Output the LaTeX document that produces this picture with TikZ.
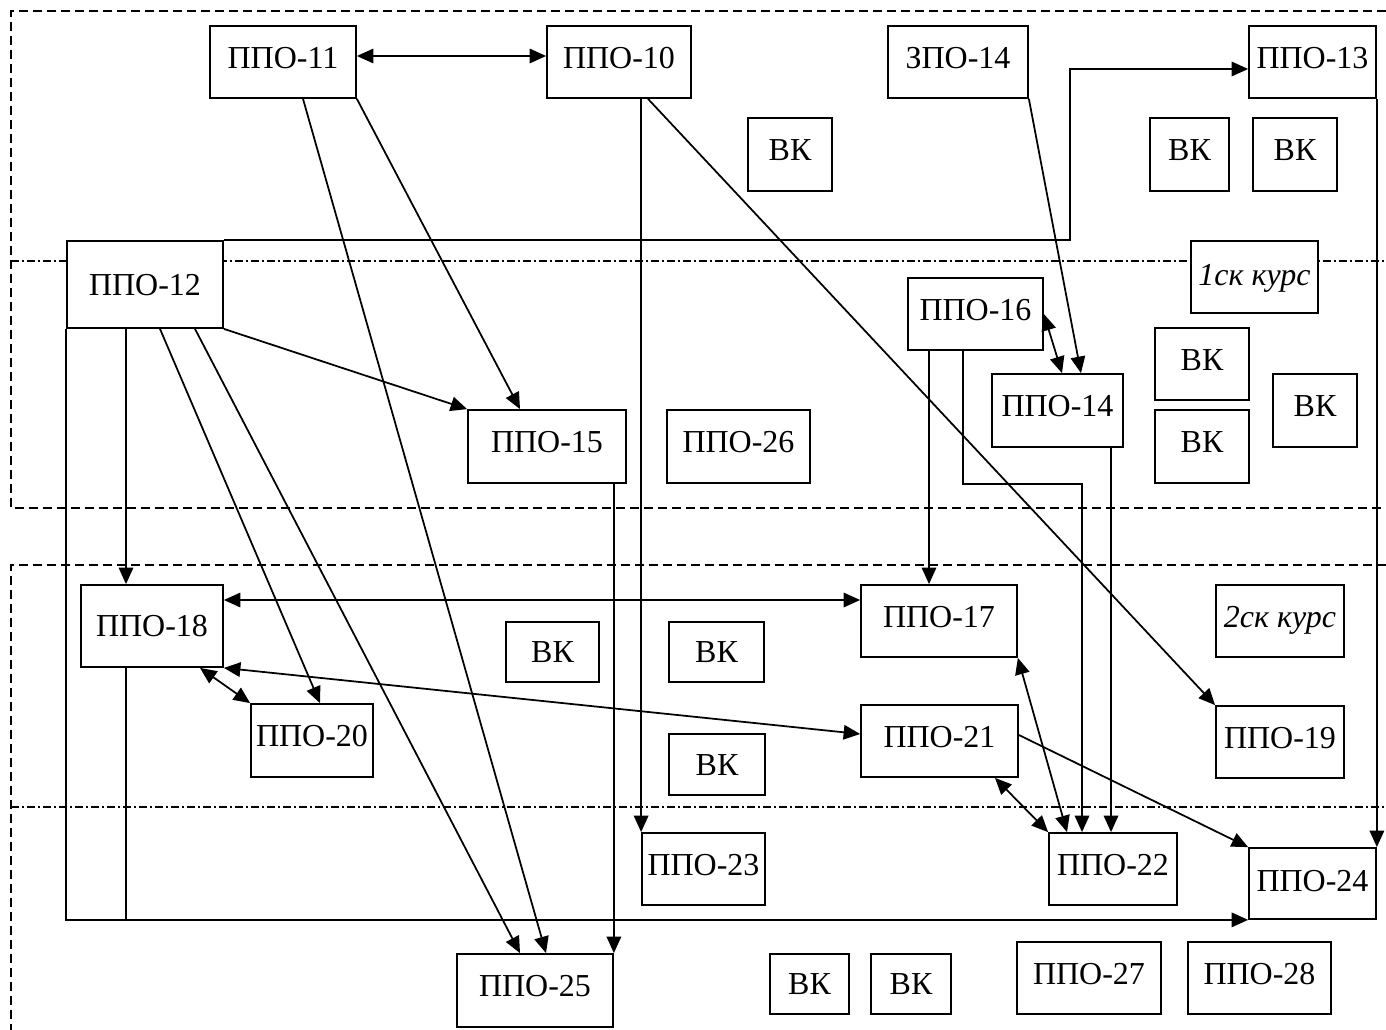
\documentclass[tikz,border=0pt]{standalone}
\usepackage{fontspec}
\setmainfont{Liberation Serif}
\usetikzlibrary{arrows.meta,calc}

\begin{document}
\begin{tikzpicture}[
      x=0.02cm, y=-0.02cm,
      >={Triangle[length=0.33cm,width=0.29cm]},
      font=\fontsize{18.2}{20}\selectfont,
      line width=1pt,
      box/.style  ={rectangle, draw, fill=white, inner sep=0pt,
                    text height=12.5pt, text depth=5.4pt},
      flat/.style ={text depth=0pt},
      sz/.style 2 args={minimum width=#1*0.02cm, minimum height=#2*0.02cm},
      frame/.style={line width=0.9pt, dash pattern=on 0.18cm off 0.1cm},
      level/.style={line width=0.9pt, dash pattern=on 0.17cm off 0.06cm on 0.03cm off 0.06cm}
    ]

    \useasboundingbox (0,0) rectangle (1386,1030);

    \draw[frame] (1386,11) -- (11,11) -- (11,508) -- (1386,508);
    \draw[frame] (1386,565) -- (11,565) -- (11,1030);
    \draw[level] (11,261) -- (1386,261);
    \draw[level] (11,807) -- (1386,807);

    \node[box, sz={146}{72}] (p11) at (283,62) {ППО-11};
    \node[box, sz={144}{72}] (p10) at (619,62) {ППО-10};
    \node[box, sz={140}{72}] (z14) at (958,62) {ЗПО-14};
    \node[box, sz={127}{72}] (p13) at (1312.5,62) {ППО-13};
    \node[box, sz={84}{73}] (vk1) at (790,154.5) {ВК};
    \node[box, sz={79}{73}] (vk2) at (1189.5,154.5) {ВК};
    \node[box, sz={84}{73}] (vk3) at (1295,154.5) {ВК};

    \node[box, flat, sz={156}{87}] (p12) at (145,284.5) {ППО-12};
    \node[box, text depth=2.5pt, sz={127}{72}] (k1) at (1254.5,277) {\itshape 1ск курс};
    \node[box, sz={135}{72}] (p16) at (975.5,314) {ППО-16};
    \node[box, sz={131}{73}] (p14) at (1057.5,410.5) {ППО-14};
    \node[box, sz={94}{72}] (vk4) at (1202,364) {ВК};
    \node[box, sz={94}{73}] (vk5) at (1202,446.5) {ВК};
    \node[box, sz={84}{73}] (vk6) at (1315,410.5) {ВК};
    \node[box, sz={158}{73}] (p15) at (547,446.5) {ППО-15};
    \node[box, sz={143}{73}] (p26) at (738.5,446.5) {ППО-26};

    \node[box, flat, sz={142}{82}] (p18) at (152,626) {ППО-18};
    \node[box, flat, sz={93}{60}] (vk7) at (552.5,652) {ВК};
    \node[box, flat, sz={95}{60}] (vk8) at (716.5,652) {ВК};
    \node[box, sz={156}{72}] (p17) at (939,621) {ППО-17};
    \node[box, sz={128}{72}] (k2) at (1280,621) {\itshape 2ск курс};
    \node[box, sz={122}{73}] (p20) at (312,740.5) {ППО-20};
    \node[box, sz={157}{72}] (p21) at (939.5,741) {ППО-21};
    \node[box, flat, sz={96}{61}] (vk9) at (717,764.5) {ВК};
    \node[box, sz={128}{72}] (p19) at (1280,742) {ППО-19};

    \node[box, sz={123}{72}] (p23) at (703.5,869) {ППО-23};
    \node[box, sz={128}{72}] (p22) at (1113,869) {ППО-22};
    \node[box, text depth=3pt, sz={127}{71}] (p24) at (1312.5,883.5) {ППО-24};
    \node[box, sz={156}{73}] (p25) at (535,990.5) {ППО-25};
    \node[box, flat, sz={79}{60}] (vk10) at (809.5,984) {ВК};
    \node[box, flat, sz={80}{60}] (vk11) at (911,984) {ВК};
    \node[box, sz={144}{72}] (p27) at (1089,978) {ППО-27};
    \node[box, sz={143}{72}] (p28) at (1259.5,978) {ППО-28};

    \coordinate (bendA) at (1070,69);
    \coordinate (c18) at ([xshift=-0.52cm]p18.north);
    \coordinate (c17) at ([xshift=-0.2cm]p17.north);
    \coordinate (c22a) at ([xshift=-0.62cm]p22.north);
    \coordinate (c22b) at ([xshift=-0.04cm]p22.north);
    \coordinate (c17w) at ([yshift=0.42cm]p17.west);

    \draw[<->] ([yshift=0.12cm]p11.east) -- ([yshift=0.12cm]p10.west);
    \draw[->] ([xshift=0.4cm]p11.south) -- ([xshift=0.22cm]p25.north);
    \draw[->] (p11.south east) -- ([xshift=-0.54cm]p15.north);
    \draw[->] (p23.north west |- p10.south) -- (p23.north west);
    \draw[->] ([xshift=0.58cm]p10.south) -- (p19.north west);
    \draw[->] (z14.south east) -- ([xshift=0.47cm]p14.north);
    \draw[->] (p12.north east) -| (bendA) -- (bendA -| p13.west);
    \draw[->] (p13.south east) -- (p24.north east);

    \draw[->] (p12.south west) |- (p24.south west);
    \draw[->] (c18 |- p12.south) -- (c18);
    \draw (c18 |- p18.south) -- (c18 |- p24.south);
    \draw[->] ([xshift=0.3cm]p12.south) -- ([xshift=0.16cm]p20.north);
    \draw[->] ([xshift=1.0cm]p12.south) -- ([xshift=-0.3cm]p25.north);
    \draw[->] (p12.south east) -- (p15.north west);
    \draw[->] (p25.north east |- p15.south) -- (p25.north east);

    \draw[<->] (p16.east) -- ([xshift=0.09cm]p14.north);
    \draw[->] (c17 |- p16.south) -- (c17);
    \draw[->] ([xshift=-0.25cm]p16.south) |- (c22a |- p15.south) -- (c22a);
    \draw[->] (c22b |- p14.south) -- (c22b);

    \draw[<->] (p18.east |- c17w) -- (c17w);
    \draw[<->] (p18.south east) -- ([yshift=0.14cm]p21.west);
    \draw[<->] ([xshift=0.96cm]p18.south) -- (p20.north west);
    \draw[<->] (p17.south east) -- ([xshift=-0.92cm]p22.north);
    \draw[<->] ([xshift=1.11cm]p21.south) -- (p22.north west);
    \draw[->] ([yshift=0.12cm]p21.east) -- (p24.north west);
\end{tikzpicture}
\end{document}
